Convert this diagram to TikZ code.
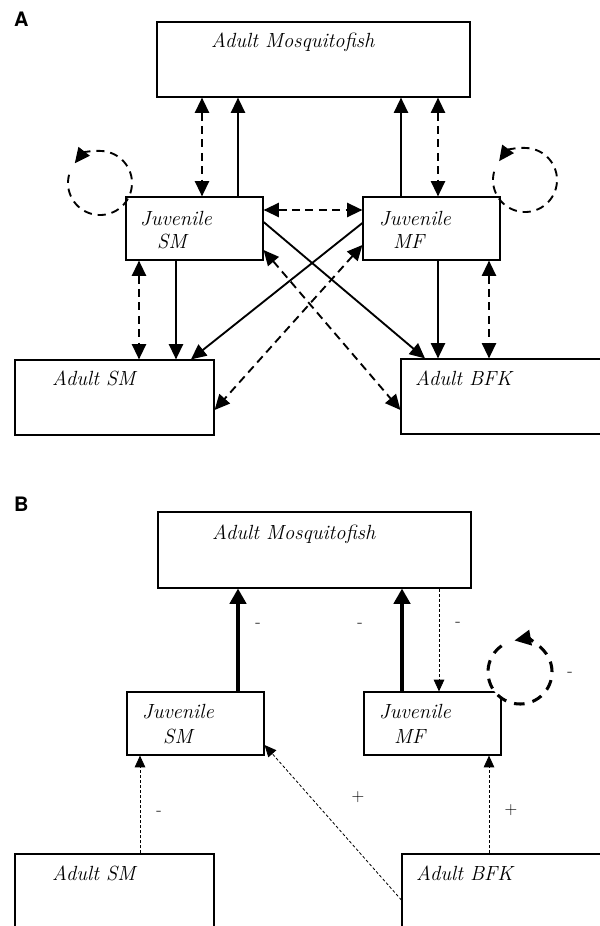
\documentclass[tikz,border=0pt]{standalone}
\usepackage{fontspec}
\newfontfamily\panelfont{TeX Gyre Heros}
\usetikzlibrary{arrows.meta, fit}
\tikzset{
  box/.style={draw, line width=1pt, inner sep=0pt},
  lbl/.style={font=\fontsize{17.5}{20}\selectfont\itshape, anchor=base west, inner sep=0pt},
  panel/.style={font=\panelfont\bfseries\fontsize{17}{19}\selectfont, anchor=base west, inner sep=0pt},
  sign/.style={font=\fontsize{15}{17}\selectfont, inner sep=0pt},
  solidA/.style={-{Triangle[length=13pt, width=12pt]}, line width=1.6pt},
  dashA/.style={{Triangle[length=13pt, width=12pt]}-{Triangle[length=13pt, width=12pt]}, line width=1.6pt, dash pattern=on 7pt off 4.5pt},
  loopA/.style={-{Triangle[length=13pt, width=12pt]}, line width=1.6pt, dash pattern=on 7pt off 5pt},
  thickB/.style={-{Triangle[length=13pt, width=14pt]}, line width=2.8pt},
  thinB/.style={-{Triangle[length=10pt, width=9pt]}, line width=0.7pt, dash pattern=on 2.5pt off 1.8pt},
  loopB/.style={-{Triangle[length=14pt, width=13pt]}, line width=2.6pt, dash pattern=on 9pt off 7pt},
}
\begin{document}
\begin{tikzpicture}[x=0.03cm, y=-0.03cm]
  \clip (0,0) rectangle (600,926);
  % panel A
  \node[panel] (pA) at (14,27) {A};
  \node[box, fit={(157,22) (470,97)}] (mosqA) {};
  \node[box, fit={(126,197) (263,260)}] (jsmA) {};
  \node[box, fit={(363,197) (500,260)}] (jmfA) {};
  \node[box, fit={(15,360) (214,435)}] (asmA) {};
  \node[box, fit={(401,359) (640,434)}] (abfkA) {};
  \node[lbl] (tmosqA) at (211,48) {Adult Mosquitofish};
  \node[lbl] (tjsmA1) at (140,225) {Juvenile};
  \node[lbl] (tjsmA2) at (157,248) {SM};
  \node[lbl] (tjmfA1) at (379,225) {Juvenile};
  \node[lbl] (tjmfA2) at (393,248) {MF};
  \node[lbl] (tasmA) at (52,385) {Adult SM};
  \node[lbl] (tabfkA) at (415,385) {Adult BFK};
  \coordinate (lpSM) at (100,183);
  \coordinate (lpMF) at (525,180);
  \draw[dashA] (202,0 |- mosqA.south) -- (202,0 |- jsmA.north);
  \draw[solidA] (238,0 |- jsmA.north) -- (238,0 |- mosqA.south);
  \draw[solidA] (401,0 |- jmfA.north) -- (401,0 |- mosqA.south);
  \draw[dashA] (438,0 |- mosqA.south) -- (438,0 |- jmfA.north);
  \draw[dashA] (jsmA.east |- 0,210) -- (jmfA.west |- 0,210);
  \draw[dashA] (139,0 |- jsmA.south) -- (139,0 |- asmA.north);
  \draw[solidA] (176,0 |- jsmA.south) -- (176,0 |- asmA.north);
  \draw[solidA] (jmfA.west |- 0,223) -- (191,0 |- asmA.north);
  \draw[solidA] (jsmA.east |- 0,222) -- (425,0 |- abfkA.north);
  \draw[dashA] (jmfA.west |- 0,245) -- (asmA.east |- 0,410);
  \draw[dashA] (jsmA.east |- 0,250) -- (abfkA.west |- 0,410);
  \draw[solidA] (438,0 |- jmfA.south) -- (438,0 |- abfkA.north);
  \draw[dashA] (489,0 |- jmfA.south) -- (489,0 |- abfkA.north);
  \draw[loopA] (lpSM) ++(165:0.96cm) arc[start angle=165, end angle=502, radius=0.96cm];
  \draw[loopA] (lpMF) ++(165:0.96cm) arc[start angle=165, end angle=504, radius=0.96cm];
  % panel B
  \node[panel] (pB) at (14,511) {B};
  \node[box, fit={(158,512) (471,588)}] (mosqB) {};
  \node[box, fit={(127,692) (264,755)}] (jsmB) {};
  \node[box, fit={(364,692) (501,755)}] (jmfB) {};
  \node[box, fit={(15,854) (214,960)}] (asmB) {};
  \node[box, fit={(402,854) (640,960)}] (abfkB) {};
  \node[lbl] (tmosqB) at (212,539) {Adult Mosquitofish};
  \node[lbl] (tjsmB1) at (142,718) {Juvenile};
  \node[lbl] (tjsmB2) at (163,743) {SM};
  \node[lbl] (tjmfB1) at (379,718) {Juvenile};
  \node[lbl] (tjmfB2) at (394,743) {MF};
  \node[lbl] (tasmB) at (52,880) {Adult SM};
  \node[lbl] (tabfkB) at (416,880) {Adult BFK};
  \coordinate (lpB) at (520,672);
  \draw[thickB] (238,0 |- jsmB.north) -- (238,0 |- mosqB.south);
  \draw[thickB] (402,0 |- jmfB.north) -- (402,0 |- mosqB.south);
  \draw[thinB] (439,0 |- mosqB.south) -- (439,0 |- jmfB.north);
  \draw[thinB] (140,0 |- asmB.north) -- (140,0 |- jsmB.south);
  \draw[thinB] (abfkB.west |- 0,900) -- (jsmB.east |- 0,745);
  \draw[thinB] (489,0 |- abfkB.north) -- (489,0 |- jmfB.south);
  \fill[white] (lpB) circle[radius=0.96cm];
  \draw[loopB] (lpB) ++(125:0.96cm) arc[start angle=125, end angle=460, radius=0.96cm];
  \node[sign] (s1) at (258,625) {-};
  \node[sign] (s2) at (360,625) {-};
  \node[sign] (s3) at (458,624) {-};
  \node[sign] (s4) at (570,674) {-};
  \node[sign] (s5) at (159,813) {-};
  \node[sign] (s6) at (358,797) {+};
  \node[sign] (s7) at (511,810) {+};
\end{tikzpicture}
\end{document}
